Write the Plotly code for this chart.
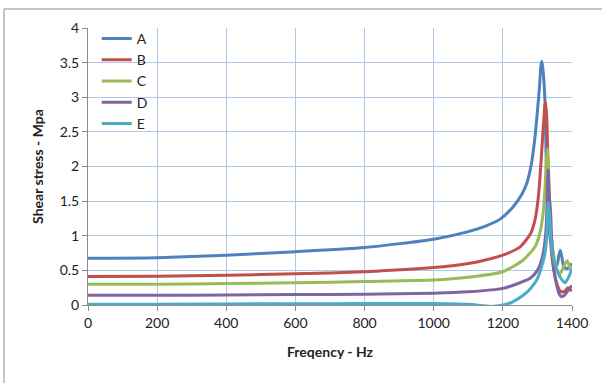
import plotly.graph_objects as go

# Shear stress response (MPa) versus excitation frequency (Hz) for five cases
freq_a = [0, 200, 400, 600, 800, 1000, 1100, 1150, 1192, 1230, 1255, 1270, 1283, 1293,
          1300, 1306, 1310, 1313, 1317, 1322, 1327, 1332, 1336, 1343, 1350, 1357, 1362,
          1366, 1371, 1377, 1388, 1400]
stress_a = [0.675, 0.683, 0.72, 0.77, 0.83, 0.95, 1.06, 1.14, 1.24, 1.42, 1.6, 1.77, 2.05,
            2.43, 2.8, 3.15, 3.45, 3.52, 3.35, 2.92, 1.71, 1.25, 0.99, 0.75, 0.6, 0.58, 0.72,
            0.79, 0.68, 0.54, 0.53, 0.6]

freq_b = [0, 200, 400, 600, 800, 1000, 1100, 1150, 1200, 1250, 1280, 1293, 1300, 1306,
          1312, 1318, 1323, 1327, 1331, 1336, 1341, 1348, 1356, 1363, 1370, 1380, 1388,
          1394, 1400]
stress_b = [0.41, 0.415, 0.43, 0.45, 0.48, 0.54, 0.6, 0.65, 0.72, 0.84, 1.03, 1.23, 1.45,
            1.75, 2.19, 2.65, 2.94, 2.7, 1.95, 1.25, 0.75, 0.48, 0.31, 0.22, 0.19, 0.2,
            0.25, 0.22, 0.21]

freq_c = [0, 200, 400, 600, 800, 1000, 1100, 1200, 1259, 1293, 1308, 1317, 1322, 1326,
          1329, 1332, 1336, 1343, 1351, 1360, 1367, 1375, 1386, 1393, 1400]
stress_c = [0.30, 0.30, 0.31, 0.32, 0.34, 0.36, 0.40, 0.48, 0.65, 0.84, 1.06, 1.35, 1.7,
            2.1, 2.26, 2.0, 1.23, 0.85, 0.62, 0.47, 0.46, 0.55, 0.64, 0.55, 0.48]

freq_d = [0, 200, 400, 600, 800, 1000, 1100, 1200, 1279, 1300, 1312, 1320, 1325, 1328,
          1331, 1334, 1338, 1341, 1348, 1356, 1363, 1370, 1378, 1386, 1393, 1400]
stress_d = [0.14, 0.14, 0.145, 0.15, 0.155, 0.17, 0.19, 0.24, 0.385, 0.5, 0.65, 0.85, 1.1,
            1.5, 1.95, 1.6, 1.35, 0.99, 0.5, 0.28, 0.16, 0.12, 0.14, 0.19, 0.24, 0.28]

freq_e = [0, 200, 400, 600, 800, 1000, 1100, 1165, 1201, 1230, 1259, 1280, 1298, 1312,
          1322, 1327, 1331, 1335, 1341, 1350, 1360, 1370, 1380, 1390, 1400]
stress_e = [0.01, 0.012, 0.015, 0.018, 0.02, 0.022, 0.01, -0.02, 0.0, 0.05, 0.14, 0.24,
            0.36, 0.55, 0.75, 1.0, 1.48, 1.3, 0.84, 0.6, 0.46, 0.37, 0.32, 0.4, 0.52]

series_names = ["A", "B", "C", "D", "E"]
series_freq = [freq_a, freq_b, freq_c, freq_d, freq_e]
series_stress = [stress_a, stress_b, stress_c, stress_d, stress_e]
colors = ["#4f81bd", "#c0504d", "#9bbb59", "#8064a2", "#4bacc6"]

x_ticks = [0, 200, 400, 600, 800, 1000, 1200, 1400]
y_ticks = [0, 0.5, 1, 1.5, 2, 2.5, 3, 3.5, 4]

FONT = "Lato, 'Open Sans', sans-serif"
GRID = "#b0c8e8"
AXIS = "#8c8c8c"

fig = go.Figure()
for name, fx, sy, col in zip(series_names, series_freq, series_stress, colors):
    fig.add_trace(go.Scatter(
        x=fx, y=sy, name=name, mode="lines",
        line=dict(color=col, width=3, shape="spline", smoothing=0.6),
    ))

fig.update_layout(
    width=602, height=383,
    margin=dict(l=88, r=30, t=28, b=78),
    paper_bgcolor="white", plot_bgcolor="white",
    font=dict(family=FONT, size=14, color="#222222"),
    showlegend=True,
    legend=dict(
        x=0.018, y=1.018, xanchor="left", yanchor="top",
        bgcolor="rgba(0,0,0,0)", borderwidth=0,
        font=dict(family=FONT, size=14, color="#222222"),
        itemwidth=30, tracegroupgap=0,
    ),
    xaxis=dict(
        range=[0, 1400], tickvals=x_ticks, ticktext=[str(v) for v in x_ticks],
        showgrid=True, gridcolor=GRID, gridwidth=1, zeroline=False,
        showline=True, linecolor=AXIS, linewidth=1,
        ticks="outside", ticklen=5, tickcolor=AXIS,
        title=dict(text="<b>Freqency - Hz</b>", font=dict(family=FONT, size=14), standoff=17),
    ),
    yaxis=dict(
        range=[0, 4], tickvals=y_ticks, ticktext=[f"{v:g}" for v in y_ticks],
        showgrid=True, gridcolor=GRID, gridwidth=1, zeroline=False,
        showline=True, linecolor=AXIS, linewidth=1,
        ticks="outside", ticklen=5, tickcolor=AXIS,
        title=dict(text="<b>Shear stress - Mpa</b>", font=dict(family=FONT, size=14), standoff=12),
    ),
    shapes=[dict(
        type="rect", xref="paper", yref="paper",
        x0=(4 - 88) / 484, x1=1.2, y0=-0.5, y1=(305 - 9) / 277,
        line=dict(color="#8c8c8c", width=1), fillcolor="rgba(0,0,0,0)", layer="below",
    )],
)

fig.write_html("out.html")
